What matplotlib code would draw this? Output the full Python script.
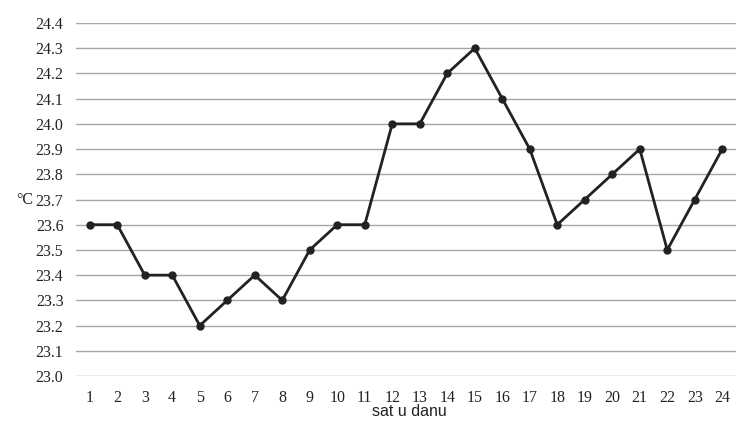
import matplotlib
matplotlib.use("Agg")
import matplotlib.pyplot as plt

hours = list(range(1, 25))
temps = [23.6, 23.6, 23.4, 23.4, 23.2, 23.3, 23.4, 23.3, 23.5, 23.6, 23.6, 24.0,
         24.0, 24.2, 24.3, 24.1, 23.9, 23.6, 23.7, 23.8, 23.9, 23.5, 23.7, 23.9]
yticks = [23.0 + 0.1 * i for i in range(15)]

fig = plt.figure(figsize=(7.53, 4.24), dpi=100)
ax = fig.add_axes([76 / 753, 1 - 376 / 424, (736 - 76) / 753, (376 - 23) / 424])

for y in yticks:
    ax.axhline(y, color="#a6a6a6", lw=1.0, zorder=1)

ax.plot(hours, temps, color="#222222", lw=2.0, marker="o", ms=5, zorder=3,
        solid_joinstyle="miter")

ax.set_xlim(0.5, 24.5)
ax.set_ylim(23.0, 24.4)
ax.set_yticks(yticks)
ax.set_yticklabels([f"{v:.1f}" for v in yticks], family="Liberation Serif", fontsize=11.5, color="#222222")
ax.set_xticks(hours)
ax.set_xticklabels([str(h) for h in hours], family="Liberation Serif", fontsize=11.5, color="#222222")
ax.tick_params(length=0, pad=9)
ax.tick_params(axis="x", pad=10)
for s in ax.spines.values():
    s.set_visible(False)

fig.text(33 / 753, 1 - 200 / 424, "°C", family="Liberation Serif", fontsize=11.5,
         ha="right", va="center", color="#222222")
fig.text(409 / 753, 1 - 412 / 424, "sat u danu", family="Liberation Sans", fontsize=11.5,
         ha="center", va="center", color="#222222")

fig.savefig("out.png", dpi=100)
